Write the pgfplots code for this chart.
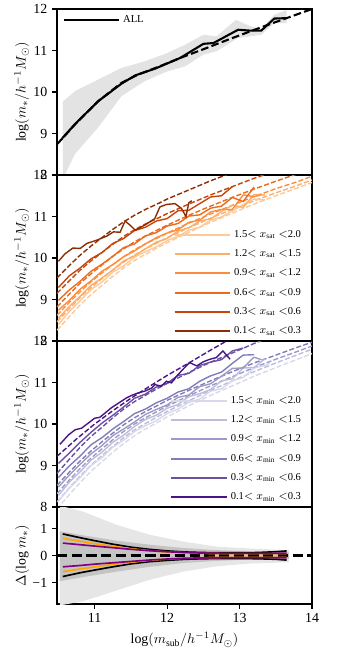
\documentclass[border=0pt]{standalone}
\usepackage{fontspec}
\setmainfont{Liberation Serif}
\usepackage{pgfplots}
\pgfplotsset{compat=1.18}

\definecolor{o1}{HTML}{FDC997}
\definecolor{o2}{HTML}{FDAE6B}
\definecolor{o3}{HTML}{FD8D3C}
\definecolor{o4}{HTML}{EC6A1C}
\definecolor{o5}{HTML}{C4460B}
\definecolor{o6}{HTML}{8C2D04}
\definecolor{p1}{HTML}{D8D8EA}
\definecolor{p2}{HTML}{BCBDDC}
\definecolor{p3}{HTML}{9E9AC8}
\definecolor{p4}{HTML}{807DBA}
\definecolor{p5}{HTML}{6A51A3}
\definecolor{p6}{HTML}{4A1486}
\definecolor{band}{HTML}{E3E3E3}
\definecolor{cloudA}{HTML}{E6E6E6}
\definecolor{cloudB}{HTML}{C4C4C4}
\definecolor{mplorange}{HTML}{FFA500}
\definecolor{mplpurple}{HTML}{800080}

\pgfplotsset{
  panel/.style={
    scale only axis, width=183.6pt,
    xmin=10.48, xmax=14,
    axis line style={line width=0.8pt},
    tick align=outside, tick pos=left,
    major tick length=3.5pt,
    every tick/.style={black, line width=0.8pt},
    /pgf/number format/assume math mode=true,
    ticklabel style={font=\fontsize{10}{12}\selectfont},
    label style={font=\fontsize{10}{12}\selectfont},
    every axis y label/.style={at={(axis description cs:-0.09,0.5)}, rotate=90, anchor=south},
    legend cell align=left,
    legend style={draw=none, fill=none, font=\fontsize{7.6}{9}\selectfont, row sep=3.4pt},
    legend image code/.code={\draw[#1, line width=1.5pt] (0pt,0pt) -- (40pt,0pt);},
  },
  upper/.style={panel, height=119.52pt, ymin=8, ymax=12, ytick={8,9,10,11,12}, xtick=\empty,
    ylabel={$\log(m_*/h^{-1}M_\odot)$}},
  dsh/.style={line width=1pt, dash pattern=on 3.7pt off 1.6pt},
  sld/.style={line width=1pt},
}

\begin{document}
\begin{tikzpicture}
\useasboundingbox (-41.04pt,6.48pt) rectangle (203.76pt,-461.52pt);

% panel 1: all subhaloes
\begin{axis}[upper, at={(0pt,0pt)}, anchor=north west,
  legend style={at={(0.005,0.995)}, anchor=north west}]
\addplot[fill=band, draw=none, forget plot] coordinates {
  (10.56,9.77) (10.73,10.02) (11.05,10.30) (11.37,10.58) (11.69,10.74) (11.99,10.93)
  (12.25,11.14) (12.5,11.38) (12.68,11.34) (12.95,11.74) (13.14,11.59) (13.30,11.52)
  (13.48,11.86) (13.65,11.98)
  (13.65,11.66) (13.48,11.66) (13.30,11.38) (12.98,11.30) (12.68,10.98) (12.5,10.90)
  (12.25,10.62) (11.99,10.49) (11.69,10.26) (11.37,9.90) (11.05,9.15) (10.73,8.51) (10.56,7.9)
} -- cycle;
\addplot[black, line width=1.5pt] coordinates {
  (10.55,8.88) (10.73,9.23) (11.05,9.78) (11.37,10.20) (11.56,10.40) (11.83,10.56)
  (12.18,10.82) (12.5,11.16) (12.64,11.18) (12.98,11.50) (13.14,11.48) (13.30,11.48)
  (13.48,11.77) (13.65,11.78)
};
\addlegendentry{ALL}
\addplot[black, line width=1.5pt, dash pattern=on 5.5pt off 2.4pt, forget plot] coordinates {
  (10.48,8.74) (10.73,9.22) (11.05,9.78) (11.37,10.22) (11.6,10.42) (11.9,10.62)
  (12.18,10.82) (12.5,11.03) (12.9,11.30) (13.3,11.56) (13.65,11.78) (14.0,12.0)
};
\end{axis}

% panel 2: split by x_sat
\begin{axis}[upper, at={(0pt,-119.52pt)}, anchor=north west,
  legend style={at={(0.985,-0.005)}, anchor=south east}]
\addplot[o1, dsh, forget plot] coordinates {(10.48,8.26) (10.65,8.59) (10.8,8.87) (10.95,9.12) (11.1,9.34) (11.25,9.56) (11.4,9.76) (11.55,9.94) (11.7,10.09) (11.85,10.23) (12.0,10.37) (12.3,10.62) (12.6,10.86) (12.9,11.08) (13.2,11.30) (13.5,11.50) (13.8,11.69) (14.0,11.82)};
\addplot[o2, dsh, forget plot] coordinates {(10.48,8.46) (10.65,8.78) (10.8,9.05) (10.95,9.29) (11.1,9.50) (11.25,9.71) (11.4,9.90) (11.55,10.07) (11.7,10.22) (11.85,10.35) (12.0,10.49) (12.3,10.73) (12.6,10.96) (12.9,11.17) (13.2,11.38) (13.5,11.57) (13.8,11.75) (14.0,11.88)};
\addplot[o3, dsh, forget plot] coordinates {(10.48,8.62) (10.65,8.93) (10.8,9.19) (10.95,9.43) (11.1,9.64) (11.25,9.84) (11.4,10.03) (11.55,10.20) (11.7,10.34) (11.85,10.47) (12.0,10.60) (12.3,10.84) (12.6,11.06) (12.9,11.27) (13.2,11.48) (13.5,11.67) (13.8,11.84) (14.0,11.97)};
\addplot[o4, dsh, forget plot] coordinates {(10.48,8.82) (10.65,9.13) (10.8,9.39) (10.95,9.62) (11.1,9.83) (11.25,10.04) (11.4,10.22) (11.55,10.39) (11.7,10.53) (11.85,10.66) (12.0,10.79) (12.3,11.03) (12.6,11.25) (12.9,11.46) (13.2,11.66) (13.5,11.85) (13.8,12.03) (14.0,12.15)};
\addplot[o5, dsh, forget plot] coordinates {(10.48,9.15) (10.65,9.45) (10.8,9.71) (10.95,9.93) (11.1,10.13) (11.25,10.33) (11.4,10.52) (11.55,10.68) (11.7,10.82) (11.85,10.94) (12.0,11.07) (12.3,11.30) (12.6,11.52) (12.9,11.72) (13.2,11.92) (13.5,12.10) (13.8,12.27)};
\addplot[o6, dsh, forget plot] coordinates {(10.48,9.52) (10.65,9.82) (10.8,10.07) (10.95,10.29) (11.1,10.49) (11.25,10.69) (11.4,10.87) (11.55,11.03) (11.7,11.17) (11.85,11.29) (12.0,11.42) (12.3,11.64) (12.6,11.86) (12.9,12.06) (13.2,12.26)};
\addplot[o1, sld] coordinates {(10.5,8.40) (10.65,8.71) (10.8,8.97) (10.95,9.24) (11.1,9.42) (11.25,9.66) (11.4,9.81) (11.55,10.02) (11.7,10.15) (11.85,10.27) (12.0,10.42) (12.15,10.52) (12.3,10.67) (12.45,10.74) (12.6,10.91) (12.75,10.99) (12.9,11.13) (13.05,11.29) (13.2,11.42) (13.35,11.40)};
\addlegendentry{1.5$<x_{\rm sat}<$2.0}
\addplot[o2, sld] coordinates {(10.5,8.55) (10.65,8.83) (10.8,9.08) (10.95,9.34) (11.1,9.52) (11.25,9.71) (11.4,9.93) (11.55,10.05) (11.7,10.22) (11.85,10.38) (12.0,10.47) (12.15,10.65) (12.3,10.73) (12.45,10.89) (12.6,10.94) (12.75,11.12) (12.9,11.27) (13.05,11.22) (13.2,11.53) (13.35,11.52)};
\addlegendentry{1.2$<x_{\rm sat}<$1.5}
\addplot[o3, sld] coordinates {(10.5,8.74) (10.65,8.98) (10.8,9.25) (10.95,9.45) (11.1,9.68) (11.25,9.84) (11.4,10.03) (11.55,10.17) (11.7,10.34) (11.85,10.49) (12.0,10.60) (12.15,10.68) (12.3,10.86) (12.45,10.91) (12.6,11.11) (12.75,11.17) (12.9,11.17) (13.05,11.52) (13.2,11.48) (13.3,11.52)};
\addlegendentry{0.9$<x_{\rm sat}<$1.2}
\addplot[o4, sld] coordinates {(10.5,8.98) (10.65,9.23) (10.8,9.44) (10.95,9.68) (11.1,9.85) (11.25,10.04) (11.4,10.25) (11.55,10.34) (11.7,10.53) (11.85,10.61) (12.0,10.77) (12.15,10.83) (12.3,11.01) (12.45,11.04) (12.6,11.20) (12.75,11.25) (12.9,11.46) (13.05,11.36) (13.2,11.71)};
\addlegendentry{0.6$<x_{\rm sat}<$0.9}
\addplot[o5, sld] coordinates {(10.5,9.29) (10.65,9.57) (10.8,9.76) (10.95,9.98) (11.1,10.13) (11.25,10.35) (11.4,10.47) (11.55,10.66) (11.7,10.74) (11.85,10.89) (12.0,10.95) (12.15,11.14) (12.3,11.15) (12.45,11.31) (12.6,11.47) (12.75,11.50) (12.9,11.72)};
\addlegendentry{0.3$<x_{\rm sat}<$0.6}
\addplot[o6, sld] coordinates {(10.5,9.92) (10.59,10.10) (10.70,10.24) (10.80,10.23) (10.89,10.35) (11.03,10.43) (11.17,10.53) (11.26,10.63) (11.35,10.62) (11.42,10.89) (11.49,10.79) (11.56,10.67) (11.69,10.79) (11.83,10.95) (11.9,11.23) (11.99,11.29) (12.11,11.31) (12.2,11.19) (12.26,11.0) (12.3,11.33) (12.34,11.38)};
\addlegendentry{0.1$<x_{\rm sat}<$0.3}
\end{axis}

% panel 3: split by x_min
\begin{axis}[upper, at={(0pt,-239.04pt)}, anchor=north west,
  legend style={at={(0.985,-0.005)}, anchor=south east}]
\addplot[p1, dsh, forget plot] coordinates {(10.48,7.95) (10.65,8.30) (10.8,8.59) (10.95,8.86) (11.1,9.09) (11.25,9.32) (11.4,9.53) (11.55,9.72) (11.7,9.88) (11.85,10.02) (12.0,10.17) (12.3,10.44) (12.6,10.69) (12.9,10.92) (13.2,11.15) (13.5,11.36) (13.8,11.56) (14.0,11.70)};
\addplot[p2, dsh, forget plot] coordinates {(10.48,8.12) (10.65,8.46) (10.8,8.75) (10.95,9.01) (11.1,9.24) (11.25,9.46) (11.4,9.67) (11.55,9.86) (11.7,10.01) (11.85,10.16) (12.0,10.30) (12.3,10.56) (12.6,10.81) (12.9,11.04) (13.2,11.26) (13.5,11.47) (13.8,11.67) (14.0,11.80)};
\addplot[p3, dsh, forget plot] coordinates {(10.48,8.32) (10.65,8.65) (10.8,8.93) (10.95,9.18) (11.1,9.40) (11.25,9.62) (11.4,9.82) (11.55,10.00) (11.7,10.15) (11.85,10.29) (12.0,10.43) (12.3,10.68) (12.6,10.92) (12.9,11.14) (13.2,11.36) (13.5,11.56) (13.8,11.75) (14.0,11.88)};
\addplot[p4, dsh, forget plot] coordinates {(10.48,8.52) (10.65,8.84) (10.8,9.11) (10.95,9.35) (11.1,9.57) (11.25,9.78) (11.4,9.98) (11.55,10.15) (11.7,10.30) (11.85,10.43) (12.0,10.57) (12.3,10.81) (12.6,11.04) (12.9,11.26) (13.2,11.47) (13.5,11.66) (13.8,11.85) (14.0,11.97)};
\addplot[p5, dsh, forget plot] coordinates {(10.48,8.81) (10.65,9.15) (10.8,9.44) (10.95,9.70) (11.1,9.92) (11.25,10.15) (11.4,10.36) (11.55,10.54) (11.7,10.69) (11.85,10.84) (12.0,10.98) (12.3,11.24) (12.6,11.49) (12.9,11.71) (13.2,11.94) (13.5,12.15)};
\addplot[p6, dsh, forget plot] coordinates {(10.48,9.22) (10.75,9.64) (11.0,10.0) (11.25,10.32) (11.5,10.62) (11.75,10.90) (12.0,11.17) (12.3,11.47) (12.6,11.78) (12.8,11.98) (13.0,12.17)};
\addplot[p1, sld] coordinates {(10.5,8.14) (10.65,8.45) (10.8,8.71) (10.95,9.00) (11.1,9.19) (11.25,9.44) (11.4,9.61) (11.55,9.82) (11.7,9.96) (11.85,10.08) (12.0,10.25) (12.15,10.36) (12.3,10.52) (12.45,10.60) (12.6,10.79) (12.75,10.85) (12.9,11.04) (13.05,11.12) (13.2,11.35) (13.35,11.41) (13.42,11.47)};
\addlegendentry{1.5$<x_{\rm min}<$2.0}
\addplot[p2, sld] coordinates {(10.5,8.28) (10.65,8.60) (10.8,8.85) (10.95,9.13) (11.1,9.32) (11.25,9.56) (11.4,9.73) (11.55,9.94) (11.7,10.11) (11.85,10.21) (12.0,10.38) (12.15,10.47) (12.3,10.66) (12.45,10.73) (12.6,10.83) (12.75,11.04) (12.9,11.09) (13.05,11.35) (13.2,11.36) (13.35,11.57)};
\addlegendentry{1.2$<x_{\rm min}<$1.5}
\addplot[p3, sld] coordinates {(10.5,8.48) (10.65,8.77) (10.8,9.03) (10.95,9.28) (11.1,9.48) (11.25,9.72) (11.4,9.88) (11.55,10.05) (11.7,10.23) (11.85,10.35) (12.0,10.46) (12.15,10.64) (12.3,10.70) (12.45,10.90) (12.6,10.97) (12.75,11.15) (12.9,11.34) (13.05,11.35) (13.2,11.61) (13.3,11.55)};
\addlegendentry{0.9$<x_{\rm min}<$1.2}
\addplot[p4, sld] coordinates {(10.5,8.71) (10.65,8.99) (10.8,9.23) (10.95,9.50) (11.1,9.67) (11.25,9.88) (11.4,10.06) (11.55,10.25) (11.7,10.36) (11.85,10.51) (12.0,10.62) (12.15,10.77) (12.3,10.85) (12.45,11.03) (12.6,11.16) (12.75,11.25) (12.9,11.46) (13.05,11.66) (13.2,11.67)};
\addlegendentry{0.6$<x_{\rm min}<$0.9}
\addplot[p5, sld] coordinates {(10.5,9.05) (10.65,9.30) (10.8,9.56) (10.95,9.80) (11.1,10.02) (11.25,10.21) (11.4,10.41) (11.55,10.62) (11.7,10.72) (11.85,10.89) (12.0,10.98) (12.15,11.17) (12.3,11.22) (12.45,11.41) (12.6,11.49) (12.75,11.55) (12.9,11.76) (13.05,11.83)};
\addlegendentry{0.3$<x_{\rm min}<$0.6}
\addplot[p6, sld] coordinates {(10.52,9.51) (10.64,9.74) (10.73,9.86) (10.82,9.90) (10.91,10.02) (11.0,10.14) (11.07,10.16) (11.14,10.26) (11.23,10.39) (11.30,10.47) (11.37,10.55) (11.44,10.63) (11.51,10.69) (11.60,10.75) (11.69,10.79) (11.79,10.87) (11.83,10.95) (11.92,10.91) (11.99,11.03) (12.06,10.99) (12.13,11.15) (12.22,11.32) (12.31,11.48) (12.41,11.40) (12.5,11.50) (12.59,11.56) (12.68,11.60) (12.77,11.76) (12.87,11.56)};
\addlegendentry{0.1$<x_{\rm min}<$0.3}
\end{axis}

% panel 4: residuals
\begin{axis}[panel, at={(0pt,-358.56pt)}, anchor=north west,
  height=69.84pt, ymin=-1.8, ymax=1.8, ytick={-1,0,1}, yticklabels={−1,0,1},
  xtick={11,12,13,14},
  xlabel={$\log(m_{\rm sub}/h^{-1}M_\odot)$},
  ylabel={$\Delta(\log m_*)$}]
\addplot[fill=cloudA, draw=none] coordinates {
  (10.52,1.85) (10.84,1.63) (11.30,1.14) (11.76,0.77) (12.22,0.52) (12.68,0.33) (13.14,0.26) (13.68,0.2)
  (13.68,-0.25) (13.14,-0.3) (12.68,-0.4) (12.22,-0.6) (11.76,-0.9) (11.30,-1.3) (10.84,-1.7) (10.52,-1.85)
} -- cycle;
\addplot[fill=cloudB, draw=none] coordinates {
  (10.52,0.9) (10.84,0.75) (11.30,0.55) (11.76,0.4) (12.22,0.28) (12.68,0.2) (13.14,0.15) (13.68,0.12)
  (13.68,-0.12) (13.14,-0.15) (12.68,-0.2) (12.22,-0.28) (11.76,-0.42) (11.30,-0.6) (10.84,-0.8) (10.52,-0.95)
} -- cycle;
\addplot[black, line width=2pt, dash pattern=on 7.4pt off 3.2pt] coordinates {(10.48,0) (14,0)};
\addplot[black, line width=1.2pt] coordinates {(10.56,0.80) (10.8,0.66) (11.0,0.55) (11.25,0.42) (11.5,0.31) (11.75,0.23) (12.0,0.17) (12.25,0.13) (12.5,0.11) (12.75,0.10) (13.0,0.10) (13.25,0.11) (13.5,0.14) (13.65,0.17)};
\addplot[black, line width=1.2pt] coordinates {(10.56,-0.78) (10.8,-0.64) (11.0,-0.54) (11.25,-0.42) (11.5,-0.31) (11.75,-0.23) (12.0,-0.18) (12.25,-0.14) (12.5,-0.12) (12.75,-0.11) (13.0,-0.11) (13.25,-0.12) (13.5,-0.14) (13.65,-0.17)};
\addplot[mplorange, line width=1.2pt] coordinates {(10.56,0.64) (10.8,0.53) (11.0,0.44) (11.25,0.34) (11.5,0.25) (11.75,0.18) (12.0,0.13) (12.25,0.10) (12.5,0.08) (12.75,0.07) (13.0,0.07) (13.25,0.07) (13.5,0.07) (13.65,0.07)};
\addplot[mplorange, line width=1.2pt] coordinates {(10.56,-0.60) (10.8,-0.50) (11.0,-0.42) (11.25,-0.33) (11.5,-0.25) (11.75,-0.18) (12.0,-0.13) (12.25,-0.10) (12.5,-0.08) (12.75,-0.07) (13.0,-0.07) (13.25,-0.07) (13.5,-0.07) (13.65,-0.07)};
\addplot[mplpurple, line width=1.2pt] coordinates {(10.56,0.46) (10.8,0.40) (11.0,0.35) (11.25,0.29) (11.5,0.23) (11.75,0.18) (12.0,0.14) (12.25,0.11) (12.5,0.09) (12.75,0.08) (13.0,0.08) (13.25,0.08) (13.5,0.08) (13.65,0.09)};
\addplot[mplpurple, line width=1.2pt] coordinates {(10.56,-0.42) (10.8,-0.37) (11.0,-0.32) (11.25,-0.27) (11.5,-0.22) (11.75,-0.17) (12.0,-0.13) (12.25,-0.10) (12.5,-0.09) (12.75,-0.08) (13.0,-0.08) (13.25,-0.08) (13.5,-0.08) (13.65,-0.09)};
\end{axis}
\end{tikzpicture}
\end{document}
